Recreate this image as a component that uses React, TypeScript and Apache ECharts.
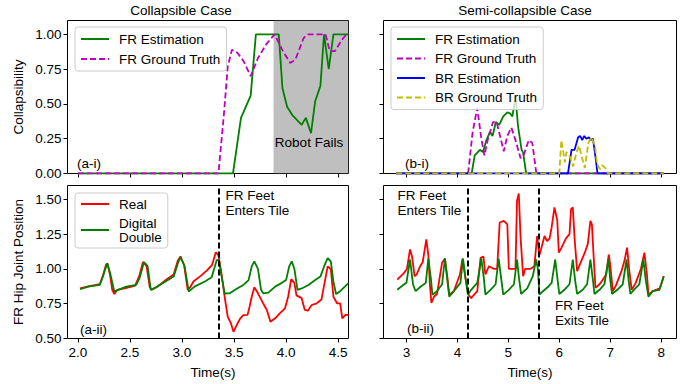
import React, { useEffect, useRef } from "react";
import * as echarts from "echarts";

// ---------- data ----------
// (a-i) Collapsible case: collapsibility
const aFrEstimation: [number, number][] = [
  [2.0, 0], [3.49, 0], [3.567, 0.4], [3.66, 0.56], [3.71, 1.0], [3.93, 1.0], [3.965, 0.615],
  [4.01, 0.48], [4.06, 0.42], [4.15, 0.35], [4.19, 0.4], [4.24, 0.29], [4.28, 0.52],
  [4.33, 0.63], [4.365, 1.0], [4.41, 0.75], [4.455, 1.0], [4.6, 1.0],
];
const aFrGroundTruth: [number, number][] = [
  [2.0, 0], [3.35, 0], [3.4, 0.4], [3.44, 0.77], [3.48, 0.89], [3.53, 0.87], [3.59, 0.81],
  [3.66, 0.7], [3.73, 0.83], [3.81, 0.93], [3.89, 1.0], [3.97, 0.88], [4.04, 0.795],
  [4.09, 0.82], [4.17, 0.975], [4.21, 1.0], [4.38, 1.0], [4.42, 0.88], [4.47, 0.88],
  [4.535, 0.96], [4.58, 1.0], [4.6, 1.0],
];
const robotFailsSpan: [number, number] = [3.88, 4.6];

// (b-i) Semi-collapsible case: collapsibility
const bFrEstimation: [number, number][] = [
  [2.8, 0], [4.28, 0], [4.34, 0.13], [4.44, 0.17], [4.5, 0.155], [4.57, 0.24], [4.64, 0.3],
  [4.69, 0.27], [4.755, 0.37], [4.82, 0.35], [4.9, 0.41], [4.98, 0.44], [5.04, 0.43],
  [5.08, 0.41], [5.14, 0.55], [5.19, 0.34], [5.26, 0.17], [5.29, 0.15], [5.35, 0], [8.05, 0],
];
const bFrGroundTruth: [number, number][] = [
  [2.8, 0], [4.21, 0], [4.3, 0.3], [4.39, 0.47], [4.47, 0.25], [4.53, 0.13], [4.6, 0.25],
  [4.7, 0.37], [4.77, 0.37], [4.85, 0.25], [4.91, 0.16], [4.98, 0.27], [5.06, 0.33],
  [5.14, 0.24], [5.24, 0.11], [5.3, 0.13], [5.4, 0.24], [5.47, 0.22], [5.55, 0], [8.05, 0],
];
const bBrEstimation: [number, number][] = [
  [2.8, 0], [6.17, 0], [6.24, 0.17], [6.3, 0.17], [6.37, 0.26], [6.41, 0.27], [6.45, 0.24],
  [6.49, 0.27], [6.53, 0.25], [6.58, 0.26], [6.62, 0.24], [6.66, 0.25], [6.71, 0.12],
  [6.75, 0], [8.05, 0],
];
const bBrGroundTruth: [number, number][] = [
  [2.8, 0], [6.0, 0], [6.04, 0.24], [6.11, 0.08], [6.14, 0.155], [6.21, 0.12], [6.27, 0.05],
  [6.34, 0.155], [6.39, 0.2], [6.44, 0.12], [6.5, 0.04], [6.57, 0.22], [6.63, 0.26],
  [6.7, 0.2], [6.74, 0.07], [6.8, 0.03], [6.84, 0.06], [6.9, 0.04], [6.96, 0], [8.05, 0],
];

// (a-ii) Collapsible case: FR hip joint position
const aReal: [number, number][] = [
  [2.02, 0.86], [2.1, 0.875], [2.21, 0.89], [2.24, 0.95], [2.27, 1.03], [2.285, 1.04],
  [2.31, 0.95], [2.33, 0.85], [2.35, 0.82], [2.38, 0.85], [2.45, 0.86], [2.55, 0.88],
  [2.59, 0.95], [2.625, 1.05], [2.66, 1.02], [2.69, 0.87], [2.71, 0.85], [2.76, 0.87],
  [2.86, 0.93], [2.92, 0.96], [2.96, 1.06], [2.985, 1.09], [3.02, 1.03], [3.055, 0.85],
  [3.08, 0.87], [3.11, 0.91], [3.18, 0.95], [3.24, 0.99], [3.29, 1.03], [3.325, 1.12],
  [3.35, 1.1], [3.375, 0.99], [3.41, 0.8], [3.44, 0.656], [3.47, 0.61], [3.495, 0.548],
  [3.525, 0.595], [3.56, 0.645], [3.59, 0.668], [3.63, 0.67], [3.65, 0.73], [3.67, 0.8],
  [3.695, 0.869], [3.73, 0.825], [3.78, 0.753], [3.815, 0.705], [3.85, 0.62], [3.895, 0.645],
  [3.94, 0.68], [3.99, 0.717], [4.02, 0.8], [4.05, 0.927], [4.08, 0.9], [4.1, 0.81],
  [4.15, 0.79], [4.18, 0.705], [4.21, 0.7], [4.245, 0.74], [4.295, 0.753], [4.34, 0.78],
  [4.375, 0.92], [4.4, 1.018], [4.43, 1.0], [4.455, 0.8], [4.49, 0.753], [4.52, 0.753],
  [4.54, 0.645], [4.57, 0.67], [4.6, 0.67],
];
const aDigitalDouble: [number, number][] = [
  [2.02, 0.854], [2.1, 0.873], [2.21, 0.885], [2.24, 0.945], [2.28, 1.04], [2.31, 0.97],
  [2.35, 0.837], [2.385, 0.85], [2.465, 0.873], [2.56, 0.885], [2.595, 0.94], [2.635, 1.05],
  [2.67, 1.02], [2.7, 0.85], [2.755, 0.87], [2.865, 0.92], [2.92, 0.945], [2.96, 1.04],
  [2.985, 1.085], [3.025, 1.02], [3.065, 0.837], [3.12, 0.873], [3.22, 0.91], [3.285, 0.94],
  [3.335, 1.066], [3.355, 1.06], [3.38, 0.95], [3.41, 0.825], [3.46, 0.825], [3.51, 0.85],
  [3.59, 0.885], [3.64, 0.92], [3.67, 1.018], [3.695, 1.055], [3.73, 1.0], [3.76, 0.85],
  [3.78, 0.825], [3.83, 0.83], [3.895, 0.873], [3.96, 0.9], [4.0, 0.92], [4.03, 1.018],
  [4.055, 1.055], [4.08, 1.0], [4.11, 0.85], [4.15, 0.86], [4.215, 0.885], [4.28, 0.92],
  [4.33, 0.945], [4.365, 1.018], [4.4, 1.078], [4.43, 1.055], [4.455, 0.91], [4.48, 0.82],
  [4.52, 0.84], [4.56, 0.87], [4.6, 0.898],
];

// (b-ii) Semi-collapsible case: FR hip joint position
const bReal: [number, number][] = [
  [2.82, 0.924], [2.95, 0.97], [3.01, 1.0], [3.07, 1.14], [3.11, 1.09], [3.16, 0.948],
  [3.2, 0.96], [3.27, 1.02], [3.32, 1.05], [3.39, 1.213], [3.43, 1.1], [3.46, 0.888],
  [3.49, 0.755], [3.54, 0.8], [3.6, 0.82], [3.7, 1.045], [3.755, 1.075], [3.8, 0.95],
  [3.84, 0.815], [3.93, 0.84], [4.05, 0.96], [4.1, 1.075], [4.16, 0.93], [4.22, 0.815],
  [4.27, 0.79], [4.39, 0.84], [4.455, 1.08], [4.51, 1.09], [4.55, 0.96], [4.62, 1.02],
  [4.72, 1.0], [4.78, 1.0], [4.83, 1.334], [4.91, 1.346], [4.98, 1.32], [5.01, 1.0],
  [5.075, 1.0], [5.14, 1.0], [5.17, 1.49], [5.205, 1.543], [5.24, 1.225], [5.29, 0.948],
  [5.33, 1.0], [5.43, 1.0], [5.51, 1.02], [5.565, 1.237], [5.61, 1.1], [5.64, 1.14],
  [5.71, 1.237], [5.76, 1.2], [5.81, 1.22], [5.85, 1.3], [5.905, 1.442], [5.96, 1.35],
  [5.99, 1.117], [6.04, 1.15], [6.13, 1.22], [6.2, 1.25], [6.23, 1.43], [6.265, 1.442],
  [6.3, 1.22], [6.35, 0.984], [6.4, 1.03], [6.5, 1.117], [6.56, 1.18], [6.61, 1.346],
  [6.64, 1.32], [6.68, 1.05], [6.71, 0.864], [6.79, 0.89], [6.85, 0.92], [6.92, 0.96],
  [6.97, 1.104], [7.0, 1.03], [7.05, 0.84], [7.11, 0.88], [7.22, 0.984], [7.28, 1.06],
  [7.33, 1.153], [7.37, 1.0], [7.42, 0.85], [7.5, 0.9], [7.6, 1.0], [7.67, 1.117],
  [7.72, 0.96], [7.75, 0.815], [7.83, 0.84], [7.9, 0.85], [7.97, 0.86], [8.0, 0.89],
  [8.05, 0.948],
];
const bDigitalDouble: [number, number][] = [
  [2.82, 0.85], [2.95, 0.888], [3.0, 0.9], [3.07, 1.068], [3.13, 0.888], [3.18, 0.84],
  [3.27, 0.87], [3.38, 0.9], [3.43, 1.075], [3.48, 0.93], [3.51, 0.815], [3.6, 0.84],
  [3.7, 0.89], [3.755, 1.075], [3.8, 0.93], [3.84, 0.8], [3.93, 0.84], [4.06, 0.9],
  [4.11, 1.075], [4.16, 0.93], [4.205, 0.815], [4.27, 0.85], [4.39, 0.9], [4.47, 1.075],
  [4.52, 0.93], [4.55, 0.815], [4.65, 0.85], [4.75, 0.89], [4.81, 1.075], [4.86, 0.93],
  [4.9, 0.815], [5.01, 0.85], [5.11, 0.89], [5.17, 1.068], [5.21, 0.93], [5.25, 0.82],
  [5.37, 0.86], [5.48, 0.948], [5.545, 1.068], [5.58, 1.0], [5.61, 0.815], [5.68, 0.84],
  [5.775, 0.87], [5.85, 0.9], [5.92, 1.068], [5.97, 0.91], [6.0, 0.82], [6.1, 0.85],
  [6.2, 0.89], [6.265, 1.068], [6.31, 0.92], [6.35, 0.82], [6.46, 0.85], [6.545, 0.89],
  [6.61, 1.068], [6.66, 0.92], [6.69, 0.82], [6.79, 0.85], [6.885, 0.89], [6.965, 1.068],
  [7.0, 0.92], [7.035, 0.82], [7.14, 0.85], [7.245, 0.89], [7.32, 1.068], [7.36, 0.92],
  [7.395, 0.82], [7.49, 0.86], [7.57, 0.89], [7.65, 1.068], [7.7, 0.91], [7.75, 0.8],
  [7.83, 0.84], [7.965, 0.85], [8.0, 0.89], [8.05, 0.948],
];

const aTileEnter = [3.355];
const bTileEvents = [4.2, 5.6];

const leftXTicks = [2.0, 2.5, 3.0, 3.5, 4.0, 4.5];
const rightXTicks = [3, 4, 5, 6, 7, 8];
const collapsTicks = [0, 0.25, 0.5, 0.75, 1.0];
const hipTicks = [0.5, 0.75, 1.0, 1.25, 1.5];

// ---------- styles ----------
const FONT = "Liberation Sans, Arial, sans-serif";
const FS = 13.5;
const GREEN = "#008000";
const MAGENTA = "#bf00bf";
const RED = "#ff0000";
const BLUE = "#0000ff";
const YELLOW = "#bfbf00";
const DASH = [6, 3];

function App() {
  const ref = useRef<HTMLDivElement>(null);
  useEffect(() => {
    if (!ref.current) return;
    const chart = echarts.init(ref.current, null, { renderer: "svg" });

    const gridBase = { show: true, borderColor: "#000", borderWidth: 1, backgroundColor: "transparent", containLabel: false };
    const grids = [
      { ...gridBase, left: 67.5, top: 20.5, width: 281, height: 153 },
      { ...gridBase, left: 383.5, top: 20.5, width: 293, height: 153 },
      { ...gridBase, left: 67.5, top: 185.5, width: 281, height: 153 },
      { ...gridBase, left: 383.5, top: 185.5, width: 293, height: 153 },
    ];

    const labelStyle = { color: "#000", fontSize: FS, fontFamily: FONT };
    const mkX = (grid: number, min: number, max: number, ticks: number[], showLabel: boolean, fmt: (v: number) => string) => ({
      type: "value",
      gridIndex: grid,
      min,
      max,
      axisLine: { show: false },
      splitLine: { show: false },
      axisTick: { show: true, length: 4, lineStyle: { color: "#000", width: 1 }, customValues: ticks },
      axisLabel: { show: showLabel, ...labelStyle, margin: 7, customValues: ticks, formatter: (v: number) => fmt(v) },
    });
    const mkY = (grid: number, min: number, max: number, ticks: number[], showLabel: boolean) => ({
      type: "value",
      gridIndex: grid,
      min,
      max,
      axisLine: { show: false },
      splitLine: { show: false },
      axisTick: { show: true, length: 4, lineStyle: { color: "#000", width: 1 }, customValues: ticks },
      axisLabel: { show: showLabel, ...labelStyle, margin: 6, customValues: ticks, formatter: (v: number) => v.toFixed(2) },
    });

    const line = (name: string, x: number, data: [number, number][], color: string, dashed: boolean, z = 3) => ({
      type: "line",
      name,
      xAxisIndex: x,
      yAxisIndex: x,
      data,
      symbol: "none",
      showSymbol: false,
      smooth: false,
      z,
      lineStyle: { color, width: 1.8, type: dashed ? DASH : "solid" },
      itemStyle: { color },
    });

    const vline = (x: number, vals: number[]) => ({
      type: "line",
      name: "_v" + x,
      xAxisIndex: x,
      yAxisIndex: x,
      data: [],
      z: 6,
      markLine: {
        silent: true,
        symbol: "none",
        label: { show: false },
        lineStyle: { color: "#000", width: 2, type: DASH },
        data: vals.map((v) => ({ xAxis: v })),
      },
    });

    const legendBase = {
      orient: "vertical",
      backgroundColor: "rgba(255,255,255,0.8)",
      borderColor: "#cccccc",
      borderWidth: 1,
      borderRadius: 3,
      itemWidth: 28,
      itemHeight: 14,
      selectedMode: false,
      itemStyle: { opacity: 0 },
      textStyle: { color: "#000", fontSize: FS, fontFamily: FONT, padding: [0, 0, 0, 5] },
    };

    const txt = (text: string, x: number, y: number, align = "left", vAlign = "middle", extra: any = {}) => ({
      type: "text",
      x,
      y,
      z: 20,
      ...extra,
      style: { text, fill: "#000", fontSize: FS, fontFamily: FONT, align, verticalAlign: vAlign, lineHeight: 15 },
    });

    chart.setOption({
      animation: false,
      backgroundColor: "#fff",
      grid: grids,
      xAxis: [
        mkX(0, 1.9, 4.6, leftXTicks, false, (v) => v.toFixed(1)),
        mkX(1, 2.55, 8.3, rightXTicks, false, (v) => String(v)),
        mkX(2, 1.9, 4.6, leftXTicks, true, (v) => v.toFixed(1)),
        mkX(3, 2.55, 8.3, rightXTicks, true, (v) => String(v)),
      ],
      yAxis: [
        mkY(0, 0, 1.1, collapsTicks, true),
        mkY(1, 0, 1.1, collapsTicks, false),
        mkY(2, 0.5, 1.6, hipTicks, true),
        mkY(3, 0.5, 1.6, hipTicks, false),
      ],
      legend: [
        { ...legendBase, left: 75, top: 27, padding: [5, 6, 5, 5], itemGap: 6, data: ["FR Estimation", "FR Ground Truth"] },
        { ...legendBase, left: 391, top: 27, padding: [5, 6, 5, 5], itemGap: 5.5, data: ["FR Estimation", "FR Ground Truth", "BR Estimation", "BR Ground Truth"] },
        { ...legendBase, left: 75, top: 193, padding: [4, 6, 4, 5], itemGap: 5, data: ["Real", "Digital\nDouble"] },
      ],
      series: [
        {
          type: "line",
          name: "_span",
          xAxisIndex: 0,
          yAxisIndex: 0,
          data: [],
          z: 1,
          markArea: {
            silent: true,
            itemStyle: { color: "rgba(128,128,128,0.5)" },
            data: [[{ xAxis: robotFailsSpan[0] }, { xAxis: robotFailsSpan[1] }]],
          },
        },
        line("FR Estimation", 0, aFrEstimation, GREEN, false),
        line("FR Ground Truth", 0, aFrGroundTruth, MAGENTA, true),
        line("FR Estimation", 1, bFrEstimation, GREEN, false),
        line("FR Ground Truth", 1, bFrGroundTruth, MAGENTA, true),
        line("BR Estimation", 1, bBrEstimation, BLUE, false),
        line("BR Ground Truth", 1, bBrGroundTruth, YELLOW, true),
        line("Real", 2, aReal, RED, false),
        line("Digital\nDouble", 2, aDigitalDouble, GREEN, false),
        line("Real", 3, bReal, RED, false),
        line("Digital\nDouble", 3, bDigitalDouble, GREEN, false),
        vline(2, aTileEnter),
        vline(3, bTileEvents),
      ],
      graphic: [
        txt("Collapsible Case", 181, 10, "center"),
        txt("Semi-collapsible Case", 525, 10, "center"),
        txt("Collapsibility", 18, 97, "center", "middle", { rotation: Math.PI / 2 }),
        txt("FR Hip Joint Position", 18, 262, "center", "middle", { rotation: Math.PI / 2 }),
        txt("Time(s)", 213, 372, "center"),
        txt("Time(s)", 530, 372, "center"),
        txt("(a-i)", 77, 163),
        txt("(b-i)", 405, 163),
        txt("(a-ii)", 80, 329),
        txt("(b-ii)", 407, 328),
        txt("Robot Fails", 309, 142, "center"),
        txt("FR Feet\nEnters Tile", 225.5, 202.5),
        txt("FR Feet\nEnters Tile", 397.5, 202.5),
        txt("FR Feet\nExits Tile", 555, 312.5),
      ],
    });

    return () => chart.dispose();
  }, []);

  return <div ref={ref} style={{ position: "fixed", left: 0, top: 0, width: 691, height: 384 }} />;
}

export default App;
